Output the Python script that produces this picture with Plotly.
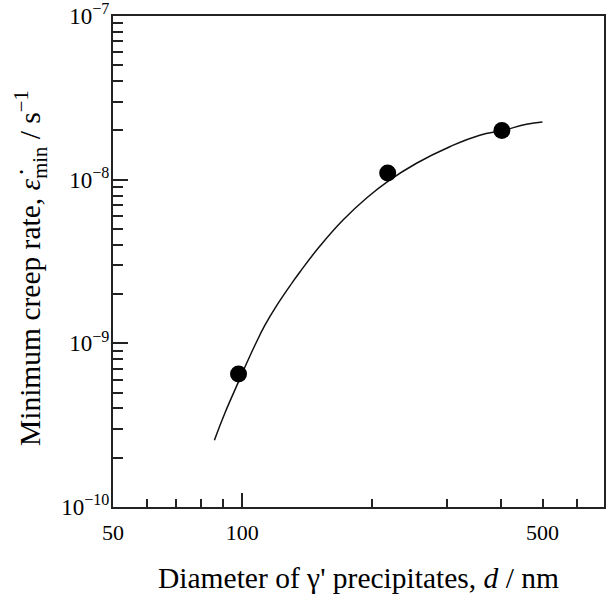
import plotly.graph_objects as go

# Measured data points
d_data = [98, 218, 402]
rate_data = [6.5e-10, 1.1e-8, 2.0e-8]

# Fitted curve
curve_d = [86.1, 91.2, 97.9, 102.4, 107.0, 112.9, 120.2, 130.7, 136.2, 151.6,
           171.8, 194.7, 218.6, 254.4, 304.1, 357.1, 404.6, 458.5, 499.6]
curve_rate = [2.56e-10, 3.78e-10, 5.79e-10, 7.58e-10, 9.73e-10, 1.29e-9, 1.70e-9,
              2.35e-9, 2.73e-9, 3.93e-9, 5.69e-9, 7.73e-9, 9.80e-9, 1.26e-8,
              1.59e-8, 1.87e-8, 2.00e-8, 2.18e-8, 2.25e-8]

# Axis ticks
x_tickvals = [50, 100, 500]
x_ticktext = ["50", "100", "500"]
x_minor = [60, 70, 80, 90, 200, 300, 400, 600]
x_long = [100]
y_tickvals = [1e-10, 1e-9, 1e-8, 1e-7]
y_ticktext = ["10<sup>−10</sup>", "10<sup>−9</sup>", "10<sup>−8</sup>", "10<sup>−7</sup>"]
y_minor = [m * 10.0 ** e for e in (-10, -9, -8) for m in range(2, 10)]

x_title = "Diameter of γ' precipitates, <i>d</i> / nm"
y_title = "Minimum creep rate, <i>ε̇</i><sub>min</sub> / s<sup>−1</sup>"

FONT = "Liberation Serif"
AX = "#222222"

fig = go.Figure()
fig.add_trace(go.Scatter(x=curve_d, y=curve_rate, mode="lines",
                         line=dict(color="#111111", width=1.5, shape="spline", smoothing=1.3),
                         showlegend=False, hoverinfo="skip"))
fig.add_trace(go.Scatter(x=d_data, y=rate_data, mode="markers",
                         marker=dict(color="black", size=17),
                         showlegend=False))
# invisible trace so the overlay axis (long tick at 100) is drawn
fig.add_trace(go.Scatter(x=[100], y=[1e-10], xaxis="x2", mode="markers",
                         marker=dict(opacity=0), showlegend=False, hoverinfo="skip"))

fig.update_layout(
    width=608, height=595,
    margin=dict(l=113, r=4, t=16, b=88),
    paper_bgcolor="white", plot_bgcolor="white",
    font=dict(family=FONT, color="black", size=22),
    xaxis=dict(
        type="log", range=[1.699, 2.842], automargin=False,
        tickmode="array", tickvals=x_tickvals, ticktext=x_ticktext,
        ticks="inside", ticklen=8, tickwidth=1.5, tickcolor=AX,
        ticklabelstandoff=5,
        minor=dict(tickmode="array", tickvals=x_minor, ticks="inside",
                   ticklen=8, tickwidth=1.5, tickcolor=AX, showgrid=False),
        showline=True, linewidth=2, linecolor=AX, mirror=True,
        showgrid=False, zeroline=False,
        tickfont=dict(size=22, family=FONT),
        title=dict(text=x_title, font=dict(size=29.5, family=FONT), standoff=23),
    ),
    xaxis2=dict(
        type="log", range=[1.699, 2.842], overlaying="x", anchor="y",
        side="bottom", tickmode="array", tickvals=x_long, automargin=False,
        ticks="inside", ticklen=14, tickwidth=1.5, tickcolor=AX,
        showticklabels=False, showline=False, showgrid=False, zeroline=False,
    ),
    yaxis=dict(
        type="log", range=[-10, -7], automargin=False,
        tickmode="array", tickvals=y_tickvals, ticktext=y_ticktext,
        ticks="inside", ticklen=15, tickwidth=1.5, tickcolor=AX,
        ticklabelstandoff=-3,
        minor=dict(tickmode="array", tickvals=y_minor, ticks="inside",
                   ticklen=10, tickwidth=1.5, tickcolor=AX, showgrid=False),
        showline=True, linewidth=2, linecolor=AX, mirror=True,
        showgrid=False, zeroline=False,
        tickfont=dict(size=23, family=FONT),
    ),
    annotations=[dict(
        text=y_title, textangle=-90, showarrow=False,
        xref="paper", yref="paper", x=-83 / 491, y=(507 - 268) / 491,
        xanchor="center", yanchor="middle",
        font=dict(size=29.5, family=FONT, color="black"),
    )],
)

fig.write_html("out.html", config={"displayModeBar": False},
               post_script="document.body.style.margin='0';")
